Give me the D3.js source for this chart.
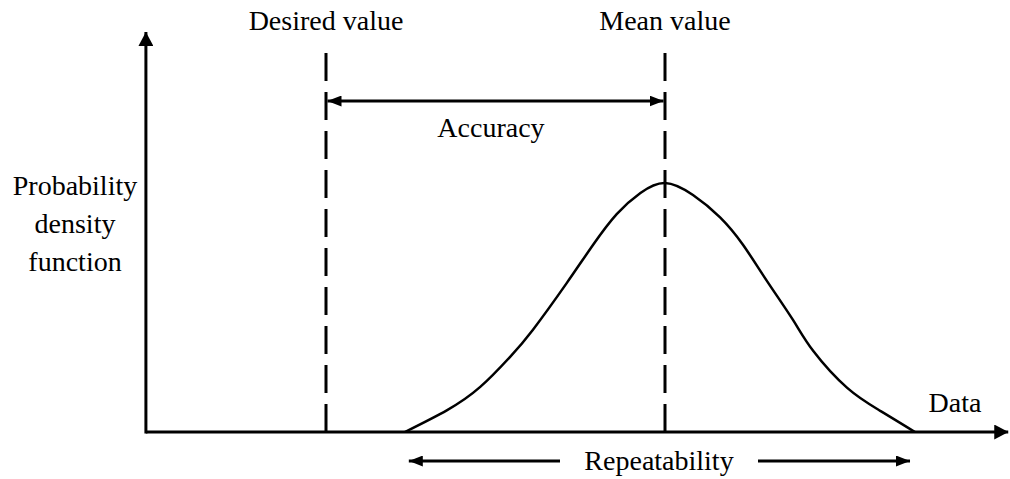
<!DOCTYPE html>
<html>
<head>
<meta charset="utf-8">
<script src="https://cdn.jsdelivr.net/npm/d3@7/dist/d3.min.js"></script>
<style>
  html, body { margin: 0; padding: 0; background: #fff; }
  svg text { font-family: "Liberation Serif", "Times New Roman", serif; font-size: 28px; fill: #000; }
</style>
</head>
<body>
<svg id="chart" width="1010" height="479"></svg>
<script>
// ---- data ----
const curveX = [2.93, 3.43, 3.82, 4.17, 4.44, 4.84, 5.15, 5.43, 5.71, 6.00, 6.33, 6.65, 6.92, 7.20, 7.51, 7.75, 8.15, 8.54, 8.95];
const curveY = [0, 0.088, 0.181, 0.301, 0.410, 0.598, 0.751, 0.875, 0.960, 1.000, 0.952, 0.862, 0.752, 0.608, 0.450, 0.325, 0.177, 0.085, 0];
const desiredValue = 2.0;
const meanValue = 6.0;
const xAxisExtent = [-0.125, 10.05];
const yAxisExtent = [0, 1.606];
const labels = {
  desired: "Desired value",
  mean: "Mean value",
  accuracy: "Accuracy",
  repeatability: "Repeatability",
  xTitle: "Data",
  yTitle: ["Probability", "density", "function"]
};

// ---- scales ----
const x = d3.scaleLinear().domain([0, 10]).range([156.5, 1004]);
const y = d3.scaleLinear().domain([0, 1]).range([432, 183]);

const svg = d3.select("#chart");
const defs = svg.append("defs");
function marker(id, w, h) {
  defs.append("marker")
    .attr("id", id)
    .attr("viewBox", `0 0 ${w} ${h}`)
    .attr("refX", w).attr("refY", h / 2)
    .attr("markerWidth", w).attr("markerHeight", h)
    .attr("markerUnits", "userSpaceOnUse")
    .attr("orient", "auto-start-reverse")
    .append("path")
    .attr("d", `M0,0 L${w},${h/2} L0,${h} Z`)
    .attr("fill", "#000");
}
marker("axisArrow", 14, 15);
marker("smallArrow", 14, 11);

// axes
svg.append("line")
  .attr("x1", x(xAxisExtent[0])).attr("x2", x(xAxisExtent[1]))
  .attr("y1", y(0)).attr("y2", y(0))
  .attr("stroke", "#000").attr("stroke-width", 3)
  .attr("marker-end", "url(#axisArrow)");
svg.append("line")
  .attr("x1", x(xAxisExtent[0])).attr("x2", x(xAxisExtent[0]))
  .attr("y1", y(0) + 1.5).attr("y2", y(yAxisExtent[1]))
  .attr("stroke", "#000").attr("stroke-width", 3)
  .attr("marker-end", "url(#axisArrow)");

// dashed reference lines
[desiredValue, meanValue].forEach(v => {
  svg.append("line")
    .attr("x1", x(v)).attr("x2", x(v))
    .attr("y1", y(0)).attr("y2", 47)
    .attr("stroke", "#000").attr("stroke-width", 3)
    .attr("stroke-dasharray", "28,11");
});

// curve
const pts = curveX.map((d, i) => [d, curveY[i]]);
svg.append("path")
  .datum(pts)
  .attr("d", d3.line().x(d => x(d[0])).y(d => y(d[1])).curve(d3.curveNatural))
  .attr("fill", "none").attr("stroke", "#000").attr("stroke-width", 2.5);

// accuracy arrow
svg.append("line")
  .attr("x1", x(desiredValue) + 1.5).attr("x2", x(meanValue) - 1.5)
  .attr("y1", 101).attr("y2", 101)
  .attr("stroke", "#000").attr("stroke-width", 3)
  .attr("marker-start", "url(#smallArrow)")
  .attr("marker-end", "url(#smallArrow)");

// repeatability arrows
const repL = x(curveX[0]) + 4, repR = x(curveX[curveX.length - 1]) - 5;
svg.append("line")
  .attr("x1", 560).attr("x2", repL).attr("y1", 461).attr("y2", 461)
  .attr("stroke", "#000").attr("stroke-width", 3)
  .attr("marker-end", "url(#smallArrow)");
svg.append("line")
  .attr("x1", 758).attr("x2", repR).attr("y1", 461).attr("y2", 461)
  .attr("stroke", "#000").attr("stroke-width", 3)
  .attr("marker-end", "url(#smallArrow)");

// text
svg.append("text").attr("x", x(desiredValue)).attr("y", 30).attr("text-anchor", "middle").text(labels.desired);
svg.append("text").attr("x", x(meanValue)).attr("y", 30).attr("text-anchor", "middle").text(labels.mean);
svg.append("text").attr("x", 491).attr("y", 137).attr("text-anchor", "middle").text(labels.accuracy);
svg.append("text").attr("x", 659).attr("y", 470).attr("text-anchor", "middle").text(labels.repeatability);
svg.append("text").attr("x", 955).attr("y", 412).attr("text-anchor", "middle").text(labels.xTitle);
labels.yTitle.forEach((t, i) => {
  svg.append("text").attr("x", 75).attr("y", 195 + i * 38).attr("text-anchor", "middle").text(t);
});
</script>
</body>
</html>
